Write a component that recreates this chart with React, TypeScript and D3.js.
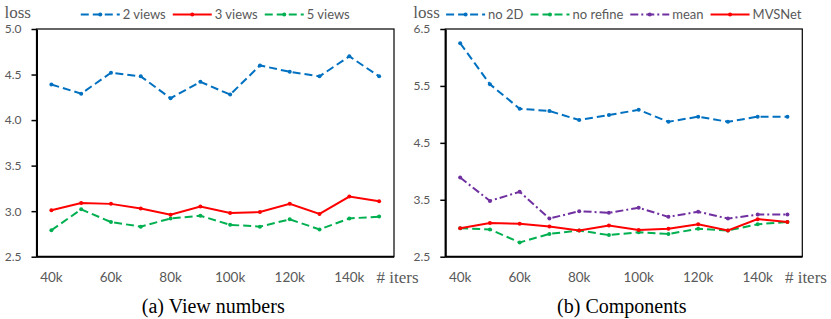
import React, { useEffect, useRef } from "react";
import * as d3 from "d3";

const iterations = ["40k", "50k", "60k", "70k", "80k", "90k", "100k", "110k", "120k", "130k", "140k", "150k"];
const shownTicks = ["40k", "60k", "80k", "100k", "120k", "140k"];

const viewNames = ["2 views", "3 views", "5 views"];
const views2 = [4.39, 4.29, 4.52, 4.48, 4.24, 4.42, 4.28, 4.6, 4.53, 4.48, 4.7, 4.48];
const views3 = [3.01, 3.09, 3.08, 3.03, 2.96, 3.05, 2.98, 2.99, 3.08, 2.97, 3.16, 3.11];
const views5 = [2.79, 3.02, 2.88, 2.83, 2.92, 2.95, 2.85, 2.83, 2.91, 2.8, 2.92, 2.94];
const viewTicks = [2.5, 3.0, 3.5, 4.0, 4.5, 5.0];

const compNames = ["no 2D", "no refine", "mean", "MVSNet"];
const no2D = [6.25, 5.53, 5.1, 5.06, 4.9, 4.99, 5.08, 4.87, 4.96, 4.87, 4.96, 4.96];
const noRefine = [3.0, 2.98, 2.75, 2.9, 2.96, 2.88, 2.93, 2.9, 2.99, 2.96, 3.07, 3.11];
const meanAgg = [3.89, 3.48, 3.64, 3.17, 3.3, 3.27, 3.36, 3.2, 3.29, 3.17, 3.24, 3.24];
const mvsnet = [3.0, 3.09, 3.08, 3.03, 2.96, 3.05, 2.97, 2.99, 3.07, 2.96, 3.16, 3.11];
const compTicks = [2.5, 3.5, 4.5, 5.5, 6.5];

const BLUE = "#0070C0";
const RED = "#FF0000";
const GREEN = "#00B050";
const PURPLE = "#7030A0";
const DASH = "8,4";
const DASHDOT = "8,3,2,3";

const SANS = "Lato, 'Open Sans', sans-serif";
const SERIF = "'Liberation Serif', 'Times New Roman', serif";
const GRAY = "#595959";

type Series = { name: string; values: number[]; color: string; dash: string | null };

type Panel = {
  left: number;
  right: number;
  top: number;
  bottom: number;
  domain: [number, number];
  ticks: number[];
  series: Series[];
  drawOrder: number[];
  title: string;
};

const panels: Panel[] = [
  {
    left: 36.5,
    right: 394,
    top: 29,
    bottom: 256.7,
    domain: [2.5, 5.0],
    ticks: viewTicks,
    series: [
      { name: viewNames[0], values: views2, color: BLUE, dash: DASH },
      { name: viewNames[1], values: views3, color: RED, dash: null },
      { name: viewNames[2], values: views5, color: GREEN, dash: DASH },
    ],
    drawOrder: [0, 2, 1],
    title: "(a) View numbers",
  },
  {
    left: 445.3,
    right: 802.3,
    top: 29,
    bottom: 256.7,
    domain: [2.5, 6.5],
    ticks: compTicks,
    series: [
      { name: compNames[0], values: no2D, color: BLUE, dash: DASH },
      { name: compNames[1], values: noRefine, color: GREEN, dash: DASH },
      { name: compNames[2], values: meanAgg, color: PURPLE, dash: DASHDOT },
      { name: compNames[3], values: mvsnet, color: RED, dash: null },
    ],
    drawOrder: [0, 1, 2, 3],
    title: "(b) Components",
  },
];

export default function App() {
  const ref = useRef<SVGSVGElement | null>(null);

  useEffect(() => {
    const svg = d3.select(ref.current);
    svg.selectAll("*").remove();

    panels.forEach((p) => {
      const g = svg.append("g");
      const x = d3.scalePoint<string>().domain(iterations).range([p.left, p.right]).padding(0.5);
      const y = d3.scaleLinear().domain(p.domain).range([p.bottom, p.top]);

      // frame
      g.append("rect")
        .attr("x", p.left)
        .attr("y", p.top)
        .attr("width", p.right - p.left)
        .attr("height", p.bottom - p.top)
        .attr("fill", "none")
        .attr("stroke", "#000")
        .attr("stroke-width", 1.2);

      // y axis
      const ya = g
        .append("g")
        .attr("transform", `translate(${p.left},0)`)
        .call(
          d3
            .axisLeft(y)
            .tickValues(p.ticks)
            .tickSize(5)
            .tickSizeOuter(0)
            .tickPadding(10)
            .tickFormat(d3.format(".1f"))
        );
      ya.select(".domain").attr("stroke", "#000").attr("stroke-width", 2);
      ya.selectAll(".tick line").attr("stroke", "#000").attr("stroke-width", 1.5);
      ya.selectAll(".tick text")
        .attr("fill", GRAY)
        .style("font-family", SANS)
        .style("font-size", "12px");

      // bottom axis line
      g.append("line")
        .attr("x1", p.left)
        .attr("x2", p.right)
        .attr("y1", p.bottom)
        .attr("y2", p.bottom)
        .attr("stroke", "#000")
        .attr("stroke-width", 2);

      // x tick labels
      g.selectAll("text.xt")
        .data(shownTicks)
        .enter()
        .append("text")
        .attr("class", "xt")
        .attr("x", (d) => x(d) as number)
        .attr("y", 282)
        .attr("text-anchor", "middle")
        .attr("fill", GRAY)
        .style("font-family", SANS)
        .style("font-size", "13.5px")
        .text((d) => d);

      const lastX = x(iterations[iterations.length - 1]) as number;
      g.append("text")
        .attr("x", lastX - 2.5)
        .attr("y", 283)
        .attr("fill", GRAY)
        .style("font-family", SERIF)
        .style("font-size", "17px")
        .text("# iters");

      // loss label
      g.append("text")
        .attr("x", p.left - 32)
        .attr("y", 18.3)
        .attr("fill", GRAY)
        .style("font-family", SERIF)
        .style("font-size", "17px")
        .text("loss");

      // title
      g.append("text")
        .attr("x", (p.left + p.right) / 2 - 2)
        .attr("y", 313)
        .attr("text-anchor", "middle")
        .attr("fill", "#000")
        .style("font-family", SERIF)
        .style("font-size", "20px")
        .text(p.title);

      // lines
      const line = d3
        .line<number>()
        .x((_, i) => x(iterations[i]) as number)
        .y((v) => y(v));

      p.drawOrder.forEach((si) => {
        const s = p.series[si];
        g.append("path")
          .attr("d", line(s.values) as string)
          .attr("fill", "none")
          .attr("stroke", s.color)
          .attr("stroke-width", 2)
          .attr("stroke-dasharray", s.dash ?? null);
        g.selectAll(`circle.m${si}`)
          .data(s.values)
          .enter()
          .append("circle")
          .attr("class", `m${si}`)
          .attr("cx", (_, i) => x(iterations[i]) as number)
          .attr("cy", (v) => y(v))
          .attr("r", 2)
          .attr("fill", s.color);
      });

      // legend
      const sampleLen = 39;
      const textGap = 3;
      const itemGap = 7;
      const lg = g.append("g");
      const widths: number[] = [];
      const items = p.series.map((s) => {
        const it = lg.append("g");
        it.append("line")
          .attr("x1", 0)
          .attr("x2", sampleLen)
          .attr("y1", 0)
          .attr("y2", 0)
          .attr("stroke", s.color)
          .attr("stroke-width", 2)
          .attr("stroke-dasharray", s.dash ?? null);
        it.append("circle").attr("cx", sampleLen / 2).attr("cy", 0).attr("r", 2).attr("fill", s.color);
        const t = it
          .append("text")
          .attr("x", sampleLen + textGap)
          .attr("y", 0)
          .attr("dy", "0.35em")
          .attr("fill", GRAY)
          .style("font-family", SANS)
          .style("font-size", "13px")
          .text(s.name);
        const w = (t.node() as SVGTextElement).getComputedTextLength();
        widths.push(sampleLen + textGap + w);
        return it;
      });
      const total = d3.sum(widths) + itemGap * (widths.length - 1);
      let cx = (p.left + p.right) / 2 - total / 2;
      items.forEach((it, i) => {
        it.attr("transform", `translate(${cx},14.5)`);
        cx += widths[i] + itemGap;
      });
    });
  }, []);

  return (
    <svg
      ref={ref}
      width={831}
      height={319}
      style={{ position: "absolute", left: 0, top: 0, background: "#fff" }}
    />
  );
}
